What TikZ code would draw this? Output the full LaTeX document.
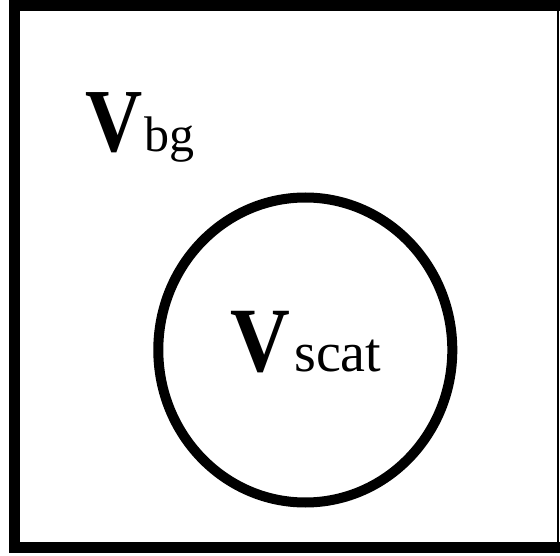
\documentclass[tikz,border=0pt]{standalone}
\usepackage{fontspec}
\setmainfont{Liberation Serif}
\usepackage{graphicx}
\begin{document}
\begin{tikzpicture}[x=1pt, y=-1pt,
    frame/.style={draw=black, line width=11pt},
    ball/.style={draw=black, line width=10pt},
    vol/.style={anchor=base west, inner sep=0pt, outer sep=0pt}
  ]
    \useasboundingbox (0,0) rectangle (560,556);
    \fill[white] (0,0) rectangle (560,556);

    % outer box, right side is cut off
    \draw[frame] (560,5.5) -- (14.5,5.5) -- (14.5,547) -- (560,547);
    \draw[line width=2pt] (557.7,11) -- (557.7,542);

    % scatterer
    \draw[ball] (305.3,350) ellipse [x radius=147, y radius=152.5];

    \node[vol] (bg) at (85.5,151.7) {\scalebox{0.88}[1]{\fontsize{90}{90}\selectfont\bfseries V}\kern2pt{\fontsize{50}{50}\selectfont bg}};
    \node[vol] (scat) at (230.5,371.7) {\scalebox{0.9}[1]{\fontsize{92}{92}\selectfont\bfseries V}\kern4pt{\fontsize{56}{56}\selectfont scat}};
\end{tikzpicture}
\end{document}
